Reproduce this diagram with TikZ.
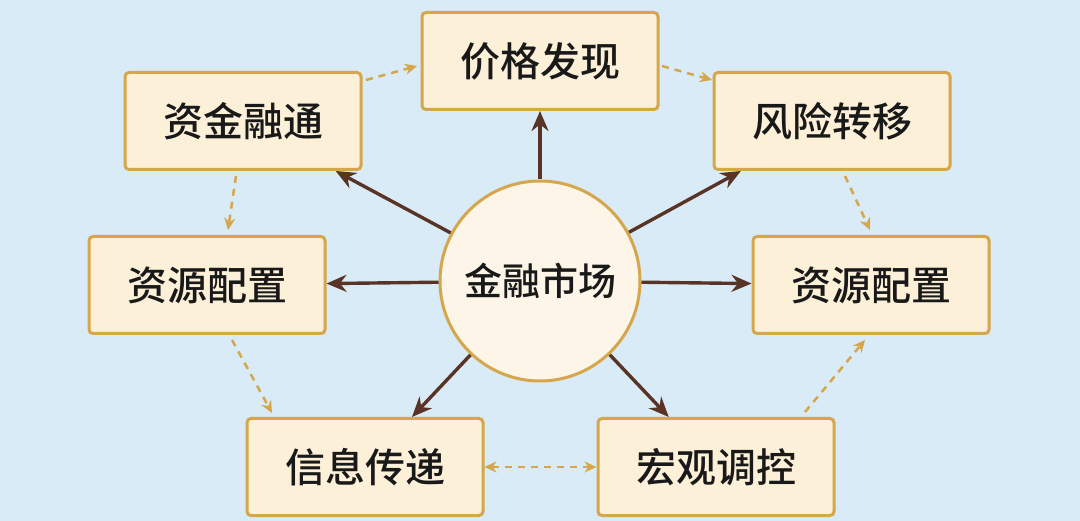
\documentclass[tikz,border=0pt]{standalone}
\usepackage{fontspec}
\newfontfamily\cjk{Noto Sans CJK SC Medium}
\usetikzlibrary{arrows.meta}
\definecolor{bg}{HTML}{D8EBF6}
\definecolor{boxfill}{HTML}{FCF0D8}
\definecolor{gold}{HTML}{D6A64C}
\definecolor{brown}{HTML}{5A3327}
\tikzset{
  x=1pt,y=-1pt,
  box/.style={draw=gold,line width=3pt,fill=boxfill,rounded corners=4pt,minimum width=236pt,minimum height=97pt,font=\cjk\fontsize{40}{42}\selectfont,text=black!90},
  hub/.style={circle,draw=gold,line width=3pt,fill=boxfill!60!white,minimum size=200pt,font=\cjk\fontsize{38}{40}\selectfont,text=black!90},
  solidarr/.style={draw=brown,line width=3.4pt,-{Stealth[length=20pt,width=17pt]}},
  dasharr/.style={draw=gold,line width=2.5pt,dashed,dash pattern=on 7pt off 6pt,-{Stealth[length=12pt,width=11pt]}}
}
\begin{document}
\begin{tikzpicture}
\fill[bg] (0,0) rectangle (1080,521);
\useasboundingbox (0,0) rectangle (1080,521);
\node[hub] (c) at (540,281) {金融市场};
\node[box] (p) at (540,61) {价格发现};
\node[box] (z) at (243,121) {资金融通};
\node[box] (f) at (832,121) {风险转移};
\node[box] (l) at (207,285) {资源配置};
\node[box] (r) at (871,285) {资源配置};
\node[box] (x) at (365,467) {信息传递};
\node[box] (h) at (716,467) {宏观调控};
\foreach \n in {p,z,f,l,r,x,h}{\draw[solidarr] (c) -- (\n);}
\coordinate (a1) at (366,80); \coordinate (a2) at (417,66);
\draw[dasharr] (a1) -- (a2);
\coordinate (b1) at (662,66); \coordinate (b2) at (712,80);
\draw[dasharr] (b1) -- (b2);
\coordinate (c1) at (845,176); \coordinate (c2) at (870,230);
\draw[dasharr] (c1) -- (c2);
\coordinate (d1) at (805,412); \coordinate (d2) at (865,340);
\draw[dasharr] (d1) -- (d2);
\coordinate (e1) at (236,176); \coordinate (e2) at (228,230);
\draw[dasharr] (e1) -- (e2);
\coordinate (g1) at (232,340); \coordinate (g2) at (272,413);
\draw[dasharr] (g1) -- (g2);
\draw[dasharr,{Stealth[length=12pt,width=11pt]}-{Stealth[length=12pt,width=11pt]}] (x) -- (h);
\end{tikzpicture}
\end{document}
